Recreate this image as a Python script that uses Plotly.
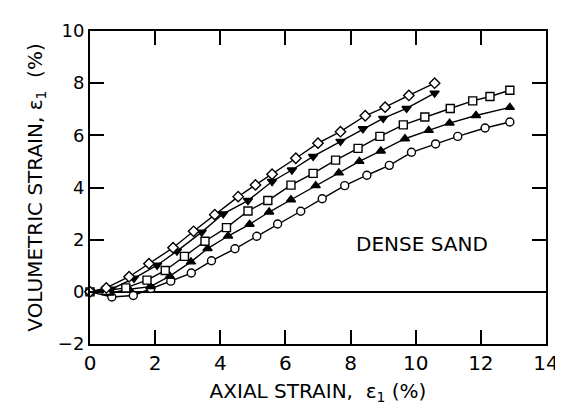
import plotly.graph_objects as go

# Axial strain (%) and volumetric strain (%) for the five test curves
diamond_x = [0.0, 0.5, 1.2, 1.81, 2.55, 3.18, 3.83, 4.55, 5.08, 5.59, 6.32, 7.0, 7.69, 8.45, 9.06, 9.79, 10.58]
diamond_y = [0.0, 0.15, 0.58, 1.08, 1.69, 2.32, 2.96, 3.65, 4.1, 4.51, 5.12, 5.7, 6.14, 6.75, 7.08, 7.53, 8.0]

tdown_x = [0.0, 0.65, 1.35, 2.06, 2.67, 3.43, 4.09, 4.85, 5.59, 6.2, 6.85, 7.69, 8.38, 9.0, 9.72, 10.58]
tdown_y = [0.0, 0.1, 0.52, 1.02, 1.56, 2.29, 2.99, 3.5, 4.23, 4.67, 5.19, 5.77, 6.25, 6.65, 7.03, 7.62]

square_x = [0.0, 0.5, 1.1, 1.75, 2.31, 2.9, 3.53, 4.19, 4.85, 5.46, 6.17, 6.85, 7.54, 8.23, 8.9, 9.62, 10.28, 11.06, 11.75, 12.28, 12.89]
square_y = [0.0, 0.05, 0.15, 0.45, 0.82, 1.36, 1.94, 2.46, 3.1, 3.5, 4.09, 4.54, 5.05, 5.5, 5.96, 6.4, 6.7, 7.03, 7.32, 7.49, 7.73]

tup_x = [0.0, 0.6, 1.2, 1.85, 2.45, 3.1, 3.61, 4.24, 4.9, 5.5, 6.17, 6.93, 7.64, 8.27, 8.93, 9.67, 10.4, 11.04, 11.85, 12.89]
tup_y = [0.0, -0.05, 0.1, 0.2, 0.6, 1.15, 1.66, 2.14, 2.59, 3.06, 3.53, 4.07, 4.56, 5.0, 5.4, 5.87, 6.19, 6.47, 6.76, 7.07]

circle_x = [0.0, 0.67, 1.33, 1.87, 2.48, 3.11, 3.73, 4.45, 5.12, 5.76, 6.47, 7.13, 7.82, 8.5, 9.19, 9.87, 10.61, 11.29, 12.13, 12.89]
circle_y = [0.0, -0.2, -0.14, 0.13, 0.41, 0.72, 1.19, 1.65, 2.13, 2.6, 3.09, 3.57, 4.07, 4.47, 4.85, 5.35, 5.67, 5.96, 6.28, 6.51]

x_ticks = [0, 2, 4, 6, 8, 10, 12, 14]
y_ticks = [-2, 0, 2, 4, 6, 8, 10]
y_tick_text = ["\u22122", "0", "2", "4", "6", "8", "10"]

FONT = "DejaVu Sans"

series = [
    (circle_x, circle_y, "circle", "white"),
    (tup_x, tup_y, "triangle-up", "black"),
    (square_x, square_y, "square", "white"),
    (tdown_x, tdown_y, "triangle-down", "black"),
    (diamond_x, diamond_y, "diamond", "white"),
]

fig = go.Figure()
for xs, ys, sym, fill in series:
    fig.add_trace(go.Scatter(
        x=xs, y=ys, mode="lines+markers",
        line=dict(color="black", width=1.4),
        marker=dict(symbol=sym, size=8, color=fill,
                    line=dict(color="black", width=1.4)),
        showlegend=False, cliponaxis=False,
    ))

fig.add_annotation(x=10.2, y=1.85, text="DENSE SAND", showarrow=False,
                   font=dict(family=FONT, size=20, color="black"))

fig.update_layout(
    width=563, height=410,
    margin=dict(l=82, r=21, t=14, b=74),
    paper_bgcolor="white", plot_bgcolor="white",
    font=dict(family=FONT, color="black"),
)
fig.update_xaxes(
    range=[0, 14], tickvals=x_ticks, ticktext=[str(v) for v in x_ticks],
    ticks="inside", ticklen=14, tickwidth=1.8, tickcolor="black",
    showline=True, linecolor="black", linewidth=2, mirror="ticks",
    showgrid=False, zeroline=False,
    tickfont=dict(family=FONT, size=20, color="black"),
    title=dict(text="AXIAL STRAIN,  \u03b5<sub>1</sub> (%)",
               font=dict(family=FONT, size=20, color="black"), standoff=10),
)
fig.update_yaxes(
    range=[-2, 10], tickvals=y_ticks, ticktext=y_tick_text,
    ticks="inside", ticklen=14, tickwidth=1.8, tickcolor="black",
    showline=True, linecolor="black", linewidth=2, mirror="ticks",
    showgrid=False, zeroline=True, zerolinecolor="black", zerolinewidth=1.5,
    tickfont=dict(family=FONT, size=18, color="black"),
    title=dict(text="VOLUMETRIC STRAIN, \u03b5<sub>1</sub>  (%)",
               font=dict(family=FONT, size=20, color="black"), standoff=10),
)

fig.write_html("out.html")
